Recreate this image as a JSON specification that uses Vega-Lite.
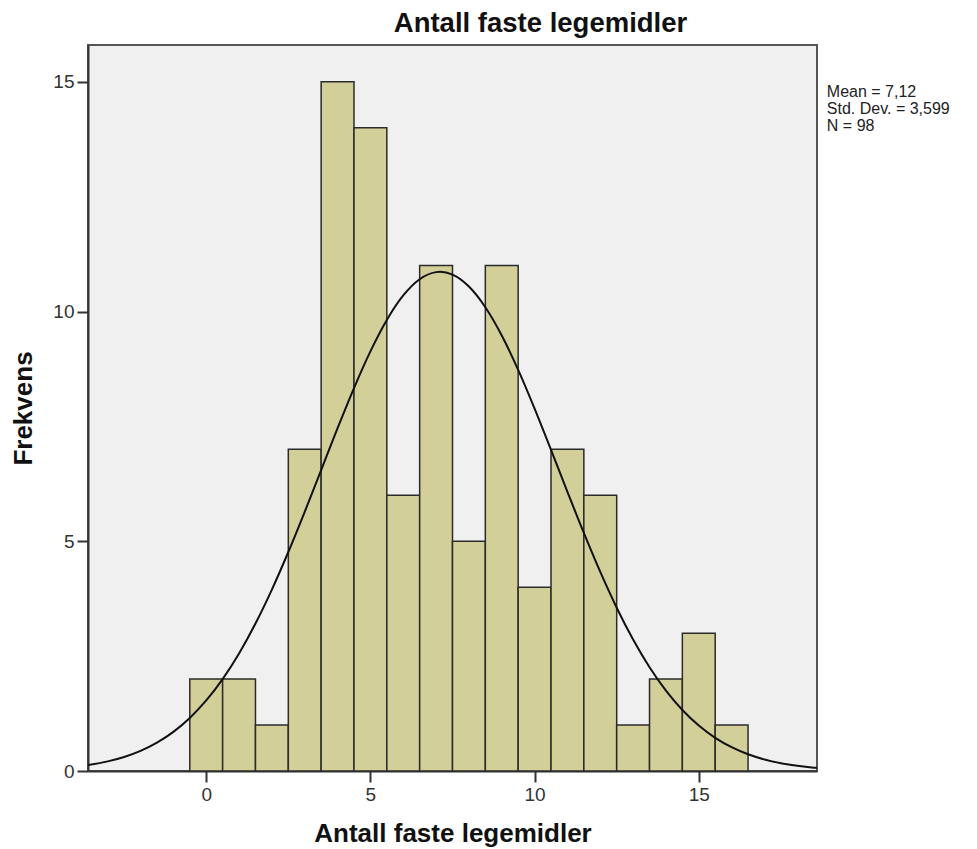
{
  "$schema": "https://vega.github.io/schema/vega-lite/v6.json",
  "width": 729,
  "height": 726,
  "autosize": {"type": "none"},
  "padding": {"left": 88, "top": 45, "right": 160, "bottom": 78},
  "background": "white",
  "config": {
    "font": "Liberation Sans",
    "view": {"fill": "#f0f0f0", "stroke": "#555555", "strokeWidth": 2}
  },
  "title": {
    "text": "Antall faste legemidler",
    "font": "Liberation Sans",
    "fontSize": 27.5,
    "fontWeight": "bold",
    "color": "#111111",
    "anchor": "middle",
    "dx": 88,
    "offset": 8
  },
  "datasets": {
    "bars": [
      {"start": -0.5, "end": 0.5, "count": 2},
      {"start": 0.5, "end": 1.5, "count": 2},
      {"start": 1.5, "end": 2.5, "count": 1},
      {"start": 2.5, "end": 3.5, "count": 7},
      {"start": 3.5, "end": 4.5, "count": 15},
      {"start": 4.5, "end": 5.5, "count": 14},
      {"start": 5.5, "end": 6.5, "count": 6},
      {"start": 6.5, "end": 7.5, "count": 11},
      {"start": 7.5, "end": 8.5, "count": 5},
      {"start": 8.5, "end": 9.5, "count": 11},
      {"start": 9.5, "end": 10.5, "count": 4},
      {"start": 10.5, "end": 11.5, "count": 7},
      {"start": 11.5, "end": 12.5, "count": 6},
      {"start": 12.5, "end": 13.5, "count": 1},
      {"start": 13.5, "end": 14.5, "count": 2},
      {"start": 14.5, "end": 15.5, "count": 3},
      {"start": 15.5, "end": 16.5, "count": 1}
    ],
    "curve": [
      {"x": -3.6, "y": 0.129}, {"x": -3, "y": 0.209}, {"x": -2.5, "y": 0.305},
      {"x": -2, "y": 0.438}, {"x": -1.5, "y": 0.617}, {"x": -1, "y": 0.852},
      {"x": -0.5, "y": 1.155}, {"x": 0, "y": 1.535}, {"x": 0.5, "y": 2.001},
      {"x": 1, "y": 2.559}, {"x": 1.5, "y": 3.21}, {"x": 2, "y": 3.949},
      {"x": 2.5, "y": 4.766}, {"x": 3, "y": 5.641}, {"x": 3.5, "y": 6.55},
      {"x": 4, "y": 7.46}, {"x": 4.5, "y": 8.334}, {"x": 5, "y": 9.133},
      {"x": 5.5, "y": 9.816}, {"x": 6, "y": 10.349}, {"x": 6.5, "y": 10.703},
      {"x": 7, "y": 10.857}, {"x": 7.12, "y": 10.863}, {"x": 7.5, "y": 10.803},
      {"x": 8, "y": 10.543}, {"x": 8.5, "y": 10.093}, {"x": 9, "y": 9.478},
      {"x": 9.5, "y": 8.73}, {"x": 10, "y": 7.887}, {"x": 10.5, "y": 6.989},
      {"x": 11, "y": 6.076}, {"x": 11.5, "y": 5.18}, {"x": 12, "y": 4.332},
      {"x": 12.5, "y": 3.554}, {"x": 13, "y": 2.86}, {"x": 13.5, "y": 2.257},
      {"x": 14, "y": 1.748}, {"x": 14.5, "y": 1.327}, {"x": 15, "y": 0.989},
      {"x": 15.5, "y": 0.722}, {"x": 16, "y": 0.518}, {"x": 16.5, "y": 0.364},
      {"x": 17, "y": 0.251}, {"x": 17.5, "y": 0.17}, {"x": 18, "y": 0.113},
      {"x": 18.5, "y": 0.073}, {"x": 18.6, "y": 0.067}
    ],
    "stats": [
      {"label": "Mean = 7,12\nStd. Dev. = 3,599\nN = 98"}
    ]
  },
  "layer": [
    {
      "data": {"name": "bars"},
      "mark": {"type": "rect", "fill": "#d3cf98", "stroke": "#2b2b2b", "strokeWidth": 1.5},
      "encoding": {
        "x": {
          "field": "start", "type": "quantitative",
          "scale": {"domain": [-3.6, 18.6], "nice": false, "zero": false},
          "axis": {
            "values": [0, 5, 10, 15],
            "grid": false,
            "title": "Antall faste legemidler",
            "titleFont": "Liberation Sans",
            "titleFontSize": 26,
            "titleFontWeight": "bold",
            "titleColor": "#111111",
            "titlePadding": 16,
            "labelFont": "Liberation Sans",
            "labelFontSize": 19,
            "labelColor": "#333333",
            "labelPadding": 3,
            "tickSize": 11,
            "tickColor": "#333333",
            "tickWidth": 2,
            "domainColor": "#333333",
            "domainWidth": 2
          }
        },
        "x2": {"field": "end"},
        "y": {
          "field": "count", "type": "quantitative",
          "scale": {"domain": [0, 15.8], "nice": false},
          "axis": {
            "values": [0, 5, 10, 15],
            "grid": false,
            "title": "Frekvens",
            "titleFont": "Liberation Sans",
            "titleFontSize": 26,
            "titleFontWeight": "bold",
            "titleColor": "#111111",
            "titlePadding": 16,
            "labelFont": "Liberation Sans",
            "labelFontSize": 19,
            "labelColor": "#333333",
            "labelPadding": 3,
            "tickSize": 11,
            "tickColor": "#333333",
            "tickWidth": 2,
            "domainColor": "#333333",
            "domainWidth": 2
          }
        },
        "y2": {"datum": 0}
      }
    },
    {
      "data": {"name": "curve"},
      "mark": {"type": "line", "color": "#111111", "strokeWidth": 2, "interpolate": "monotone", "clip": true},
      "encoding": {
        "x": {"field": "x", "type": "quantitative"},
        "y": {"field": "y", "type": "quantitative"}
      }
    },
    {
      "data": {"name": "stats"},
      "mark": {
        "type": "text",
        "align": "left",
        "baseline": "top",
        "lineBreak": "\n",
        "lineHeight": 17,
        "font": "Liberation Sans",
        "fontSize": 16,
        "color": "#222222",
        "clip": false
      },
      "encoding": {
        "text": {"field": "label", "type": "nominal"},
        "x": {"datum": 18.9},
        "y": {"datum": 14.95}
      }
    }
  ]
}
